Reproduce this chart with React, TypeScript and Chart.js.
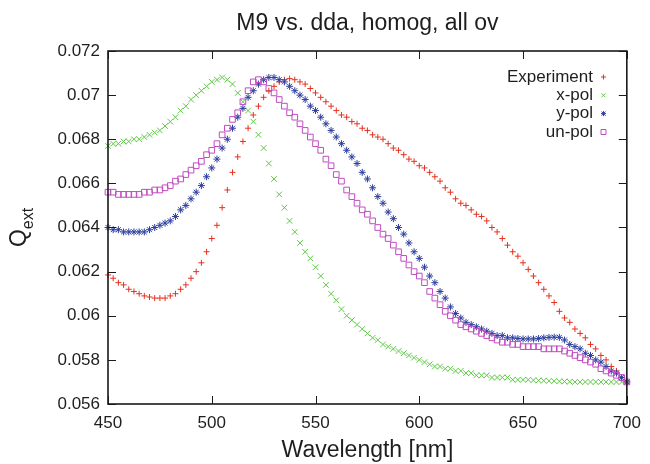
import React, { useEffect, useRef } from 'react';
import { Chart, registerables } from 'chart.js';

Chart.register(...registerables);

const chartTitle = 'M9 vs. dda, homog, all ov';
const xAxisTitle = 'Wavelength [nm]';
const seriesNames = ['Experiment', 'x-pol', 'y-pol', 'un-pol'];

const wavelengths = [
  450, 452.5, 455, 457.5, 460, 462.5, 465, 467.5, 470, 472.5,
  475, 477.5, 480, 482.5, 485, 487.5, 490, 492.5, 495, 497.5,
  500, 502.5, 505, 507.5, 510, 512.5, 515, 517.5, 520, 522.5,
  525, 527.5, 530, 532.5, 535, 537.5, 540, 542.5, 545, 547.5,
  550, 552.5, 555, 557.5, 560, 562.5, 565, 567.5, 570, 572.5,
  575, 577.5, 580, 582.5, 585, 587.5, 590, 592.5, 595, 597.5,
  600, 602.5, 605, 607.5, 610, 612.5, 615, 617.5, 620, 622.5,
  625, 627.5, 630, 632.5, 635, 637.5, 640, 642.5, 645, 647.5,
  650, 652.5, 655, 657.5, 660, 662.5, 665, 667.5, 670, 672.5,
  675, 677.5, 680, 682.5, 685, 687.5, 690, 692.5, 695, 697.5,
  700,
];

const experiment = [
  0.06185, 0.0617, 0.0615, 0.0614, 0.0612, 0.0611, 0.061, 0.0609, 0.06085, 0.0608,
  0.0608, 0.0608, 0.0609, 0.061, 0.0612, 0.0614, 0.0617, 0.062, 0.0624, 0.0629,
  0.0635, 0.0641, 0.0649, 0.0657, 0.0665, 0.0672, 0.0679, 0.0685, 0.0691, 0.0695,
  0.0699, 0.0702, 0.0704, 0.0706, 0.0707, 0.07075, 0.0707, 0.0706, 0.0705, 0.0703,
  0.0701, 0.0699, 0.0697, 0.0695, 0.0693, 0.0691, 0.069, 0.0688, 0.0687, 0.0685,
  0.0684, 0.0682, 0.0681, 0.068, 0.0678, 0.0676, 0.0675, 0.0673, 0.0671, 0.067,
  0.0668, 0.0667, 0.0665, 0.0663, 0.0661, 0.0658, 0.0656, 0.0653, 0.0651, 0.065,
  0.0648, 0.0646, 0.0645, 0.0643, 0.064, 0.0638, 0.0635, 0.0632, 0.0629, 0.0627,
  0.0624, 0.0621, 0.0618, 0.0615, 0.0612, 0.0609, 0.0606, 0.0602, 0.0599, 0.0597,
  0.0594, 0.0592, 0.059, 0.0587, 0.0585, 0.0582, 0.058, 0.0577, 0.0575, 0.0572,
  0.057,
];

const xPol = [
  0.0677, 0.0678, 0.0678, 0.0679, 0.0679, 0.068, 0.068, 0.0681, 0.0682, 0.0683,
  0.0684, 0.0686, 0.0688, 0.069, 0.0693, 0.0695, 0.0698, 0.07, 0.0702, 0.0704,
  0.0706, 0.0707, 0.0708, 0.0707, 0.0705, 0.0701, 0.0697, 0.0693, 0.0688, 0.0682,
  0.0676, 0.0669, 0.0662, 0.0655, 0.0649, 0.0643, 0.0638, 0.0633, 0.0629, 0.0626,
  0.0622, 0.0618, 0.0614, 0.061, 0.0607, 0.0603, 0.06, 0.0598, 0.0596, 0.0594,
  0.0592, 0.059, 0.0589, 0.0587, 0.0586, 0.0585, 0.0584, 0.0583, 0.0582, 0.0581,
  0.058, 0.0579, 0.0578, 0.0577, 0.0577, 0.0576, 0.0576, 0.0575, 0.0575, 0.0574,
  0.0574, 0.0573, 0.0573, 0.0573, 0.0572, 0.0572, 0.0572, 0.0572, 0.0571, 0.0571,
  0.0571, 0.0571, 0.05708, 0.05707, 0.05706, 0.05705, 0.05704, 0.05703, 0.05702, 0.05701,
  0.057, 0.057, 0.057, 0.057, 0.057, 0.057, 0.057, 0.057, 0.057, 0.057,
  0.057,
];

const yPol = [
  0.064, 0.0639, 0.0639, 0.0638, 0.0638, 0.0638, 0.0638, 0.0638, 0.0639, 0.064,
  0.0641, 0.0642, 0.0643, 0.0645, 0.0648, 0.065, 0.0653, 0.0656, 0.0659, 0.0663,
  0.0667, 0.0671, 0.0676, 0.068, 0.0685, 0.069, 0.0694, 0.0699, 0.0702, 0.0705,
  0.0707, 0.0708, 0.0708, 0.0707, 0.0706, 0.0704, 0.0702, 0.07, 0.0698, 0.0695,
  0.0693, 0.069, 0.0687, 0.0684, 0.0681, 0.0678, 0.0675, 0.0672, 0.0669, 0.0665,
  0.0662, 0.0658, 0.0654, 0.0651, 0.0647, 0.0644, 0.064, 0.0637, 0.0633, 0.0629,
  0.0626, 0.0622, 0.0618, 0.0615, 0.0611, 0.0608, 0.0604, 0.0601, 0.0599, 0.0597,
  0.0596, 0.0595, 0.0594, 0.0593, 0.0592, 0.0591, 0.0591, 0.059, 0.059, 0.05897,
  0.05895, 0.05895, 0.05895, 0.05897, 0.059, 0.05902, 0.05903, 0.05902, 0.0589, 0.0587,
  0.0586, 0.0585, 0.0583, 0.0582, 0.058, 0.0579, 0.0577, 0.0575, 0.0574, 0.0572,
  0.057,
];

const unPol = [
  0.0656, 0.0656, 0.0655, 0.0655, 0.0655, 0.0655, 0.0655, 0.0656, 0.0656, 0.0657,
  0.0657, 0.0658, 0.0659, 0.0661, 0.0662, 0.0664, 0.0666, 0.0668, 0.067, 0.0673,
  0.0675, 0.0678, 0.0682, 0.0685, 0.0689, 0.0692, 0.0697, 0.0702, 0.0706, 0.0707,
  0.0706, 0.0703, 0.0701, 0.0698, 0.0695, 0.0692, 0.069, 0.0687, 0.0684, 0.0681,
  0.0678, 0.0675, 0.0671, 0.0668, 0.0664, 0.0661, 0.0657, 0.0654, 0.0651, 0.0648,
  0.0646, 0.0643, 0.064, 0.0637, 0.0635, 0.0632, 0.0629, 0.0626, 0.0623, 0.062,
  0.0618, 0.0615, 0.0611, 0.0608, 0.0605, 0.0602, 0.06, 0.0598, 0.0596, 0.0595,
  0.0594, 0.0593, 0.0592, 0.0591, 0.059, 0.0589, 0.0588, 0.0588, 0.0587, 0.0587,
  0.0586, 0.0586, 0.0586, 0.0586, 0.0585, 0.0585, 0.0585, 0.0585, 0.0584, 0.0583,
  0.0582, 0.0581, 0.058, 0.0579, 0.0578, 0.0576, 0.0575, 0.0574, 0.0573, 0.0572,
  0.057,
];

const xTicks = [450, 500, 550, 600, 650, 700];
const yTicks = [0.056, 0.058, 0.06, 0.062, 0.064, 0.066, 0.068, 0.07, 0.072];

const COLORS = ['#e5311f', '#5ec846', '#2e3f9f', '#c04cc0'];
const FONT = '"Liberation Sans", Arial, Helvetica, sans-serif';
const TEXT = '#1e1e1e';

function fmtY(v: number): string {
  return Number(v).toFixed(3).replace(/0+$/, '').replace(/\.$/, '');
}

function drawMarker(ctx: CanvasRenderingContext2D, kind: number, x: number, y: number) {
  ctx.beginPath();
  if (kind === 0 || kind === 2) {
    ctx.moveTo(x - 2.5, y); ctx.lineTo(x + 2.5, y);
    ctx.moveTo(x, y - 2.5); ctx.lineTo(x, y + 2.5);
  }
  if (kind === 1 || kind === 2) {
    ctx.moveTo(x - 2, y - 2); ctx.lineTo(x + 2, y + 2);
    ctx.moveTo(x - 2, y + 2); ctx.lineTo(x + 2, y - 2);
  }
  if (kind === 3) {
    ctx.rect(x - 2.5, y - 2.5, 5, 5);
  }
  ctx.stroke();
}

const gnuFrame = {
  id: 'gnuFrame',
  afterDatasetsDraw(chart: any) {
    const { ctx, chartArea: a, scales } = chart;
    const xs = scales.x;
    const ys = scales.y;
    ctx.save();
    ctx.strokeStyle = '#1a1a1a';
    ctx.lineWidth = 1;
    ctx.beginPath();
    const tl = 8;
    for (const t of xTicks) {
      const px = Math.round(xs.getPixelForValue(t)) + 0.5;
      ctx.moveTo(px, a.bottom); ctx.lineTo(px, a.bottom - tl);
      ctx.moveTo(px, a.top); ctx.lineTo(px, a.top + tl);
    }
    for (const t of yTicks) {
      const py = Math.round(ys.getPixelForValue(t)) + 0.5;
      ctx.moveTo(a.left, py); ctx.lineTo(a.left + tl, py);
      ctx.moveTo(a.right, py); ctx.lineTo(a.right - tl, py);
    }
    ctx.stroke();
    ctx.lineWidth = 1.6;
    ctx.strokeRect(a.left, a.top, a.right - a.left, a.bottom - a.top);

    // title
    const cx = (a.left + a.right) / 2;
    ctx.fillStyle = TEXT;
    ctx.textAlign = 'center';
    ctx.textBaseline = 'alphabetic';
    ctx.font = `23px ${FONT}`;
    ctx.fillText(chartTitle, cx, 30);
    // x title
    ctx.fillText(xAxisTitle, cx, 457);

    // y title Q_ext
    ctx.save();
    ctx.translate(26, (a.top + a.bottom) / 2);
    ctx.rotate(-Math.PI / 2);
    ctx.font = `23px ${FONT}`;
    const wQ = ctx.measureText('Q').width;
    ctx.font = `16px ${FONT}`;
    const wE = ctx.measureText('ext').width;
    const start = -(wQ + wE) / 2;
    ctx.textAlign = 'left';
    ctx.font = `23px ${FONT}`;
    ctx.fillText('Q', start, 0);
    ctx.font = `16px ${FONT}`;
    ctx.fillText('ext', start + wQ, 7);
    ctx.restore();

    // legend
    ctx.font = `17px ${FONT}`;
    ctx.textAlign = 'right';
    ctx.textBaseline = 'middle';
    const rows = [77, 95.3, 113.6, 132];
    seriesNames.forEach((name, i) => {
      ctx.fillStyle = TEXT;
      ctx.fillText(name, 593, rows[i]);
      ctx.strokeStyle = COLORS[i];
      ctx.lineWidth = 1;
      drawMarker(ctx, i, 603.5, rows[i]);
    });
    ctx.restore();
  },
};

export default function App() {
  const ref = useRef<HTMLCanvasElement | null>(null);

  useEffect(() => {
    document.body.style.margin = '0';
    const canvas = ref.current;
    if (!canvas) return;
    const seriesValues = [experiment, xPol, yPol, unPol];
    const styles = ['cross', 'crossRot', 'star', 'rect'];
    const radii = [3, 4, 3.5, 4];
    const chart = new Chart(canvas, {
      type: 'scatter',
      data: {
        datasets: seriesValues.map((vals, i) => ({
          label: seriesNames[i],
          data: wavelengths.map((w, j) => ({ x: w, y: vals[j] })),
          pointStyle: styles[i] as any,
          pointRadius: radii[i],
          pointBorderWidth: 1,
          borderColor: COLORS[i],
          backgroundColor: 'rgba(0,0,0,0)',
          pointBackgroundColor: 'rgba(0,0,0,0)',
          pointBorderColor: COLORS[i],
          showLine: false,
          clip: false as any,
          order: 3 - i,
        })),
      },
      options: {
        animation: false,
        responsive: false,
        maintainAspectRatio: false,
        events: [],
        layout: { padding: { top: 51, right: 17, left: 0, bottom: 0 } },
        plugins: {
          legend: { display: false },
          title: { display: false },
          tooltip: { enabled: false },
        },
        scales: {
          x: {
            type: 'linear',
            min: 450,
            max: 700,
            afterFit: (s: any) => { s.height = 60; },
            grid: { display: false, drawTicks: false },
            border: { display: false },
            ticks: {
              stepSize: 50,
              padding: 9,
              color: TEXT,
              font: { family: FONT, size: 17 },
              maxRotation: 0,
            },
          },
          y: {
            type: 'linear',
            min: 0.056,
            max: 0.072,
            afterFit: (s: any) => { s.width = 108; },
            grid: { display: false, drawTicks: false },
            border: { display: false },
            ticks: {
              stepSize: 0.002,
              padding: 8,
              color: TEXT,
              font: { family: FONT, size: 17 },
              callback: (v: any) => fmtY(Number(v)),
            },
          },
        },
      },
      plugins: [gnuFrame],
    });
    return () => chart.destroy();
  }, []);

  return (
    <div style={{ width: 650, height: 464, background: '#fff' }}>
      <canvas ref={ref} width={650} height={464} style={{ display: 'block' }} />
    </div>
  );
}
